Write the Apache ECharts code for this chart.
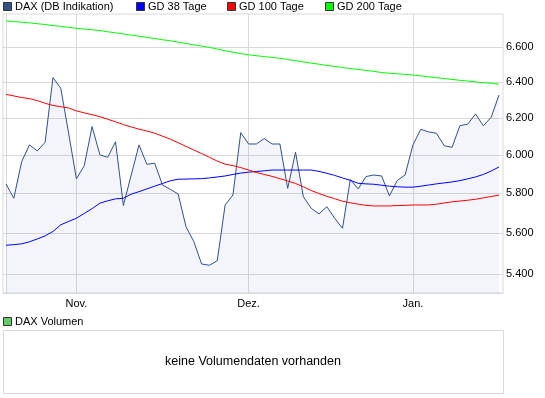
<!DOCTYPE html>
<html>
<head>
<meta charset="utf-8">
<script src="https://cdn.jsdelivr.net/npm/echarts@6/dist/echarts.min.js"></script>
<style>
  html, body { margin: 0; padding: 0; background: #fff; }
  #chart { width: 545px; height: 398px; }
</style>
</head>
<body>
<div id="chart"></div>
<script>
// Handelstage
const dates = [
  "2011-10-19", "2011-10-20", "2011-10-21", "2011-10-24", "2011-10-25", "2011-10-26", "2011-10-27", "2011-10-28", "2011-10-31",
  "2011-11-01", "2011-11-02", "2011-11-03", "2011-11-04", "2011-11-07", "2011-11-08", "2011-11-09", "2011-11-10", "2011-11-11",
  "2011-11-14", "2011-11-15", "2011-11-16", "2011-11-17", "2011-11-18", "2011-11-21", "2011-11-22", "2011-11-23", "2011-11-24",
  "2011-11-25", "2011-11-28", "2011-11-29", "2011-11-30",
  "2011-12-01", "2011-12-02", "2011-12-05", "2011-12-06", "2011-12-07", "2011-12-08", "2011-12-09", "2011-12-12", "2011-12-13",
  "2011-12-14", "2011-12-15", "2011-12-16", "2011-12-19", "2011-12-20", "2011-12-21", "2011-12-22", "2011-12-23", "2011-12-27",
  "2011-12-28", "2011-12-29", "2011-12-30",
  "2012-01-02", "2012-01-03", "2012-01-04", "2012-01-05", "2012-01-06", "2012-01-09", "2012-01-10", "2012-01-11", "2012-01-12",
  "2012-01-13", "2012-01-16", "2012-01-17"
]

const dax = [
  5849, 5775, 5965, 6054, 6022, 6068, 6425, 6365, 6118, 5875,
  5944, 6153, 6001, 5988, 6071, 5738, 5895, 6054, 5951, 5957,
  5843, 5821, 5797, 5632, 5558, 5449, 5443, 5465, 5741, 5792,
  6120, 6059, 6059, 6088, 6059, 6059, 5826, 6015, 5783, 5724,
  5696, 5732, 5674, 5624, 5872, 5823, 5887, 5895, 5890, 5787,
  5867, 5895, 6054, 6138, 6124, 6117, 6050, 6041, 6158, 6166,
  6222, 6157, 6204, 6327
]

const gd38 = [
  5540, 5543, 5547, 5557, 5571, 5586, 5608, 5641, 5658, 5674,
  5698, 5722, 5750, 5762, 5772, 5775, 5796, 5809, 5823, 5837,
  5851, 5865, 5873, 5874, 5875, 5876, 5880, 5885, 5890, 5898,
  5905, 5910, 5913, 5917, 5921, 5921, 5921, 5921, 5921, 5921,
  5914, 5904, 5893, 5880, 5867, 5852, 5849, 5847, 5842, 5837,
  5834, 5832, 5832, 5837, 5843, 5849, 5854, 5859, 5866, 5875,
  5885, 5898, 5916, 5937
]

const gd100 = [
  6331, 6322, 6313, 6307, 6296, 6281, 6269, 6262, 6255, 6239,
  6228, 6218, 6207, 6193, 6179, 6164, 6151, 6139, 6129, 6117,
  6101, 6085, 6066, 6046, 6027, 6008, 5988, 5968, 5952, 5944,
  5934, 5921, 5908, 5898, 5888, 5876, 5864, 5851, 5834, 5815,
  5799, 5785, 5773, 5760, 5752, 5745, 5739, 5736, 5736, 5736,
  5738, 5739, 5741, 5741, 5741, 5745, 5751, 5757, 5761, 5765,
  5770, 5777, 5784, 5791
]

const gd200 = [
  6755, 6751, 6748, 6744, 6739, 6734, 6728, 6723, 6717, 6712,
  6707, 6703, 6698, 6691, 6685, 6678, 6671, 6665, 6658, 6651,
  6644, 6638, 6630, 6622, 6614, 6607, 6599, 6590, 6580, 6571,
  6563, 6556, 6551, 6546, 6541, 6536, 6529, 6522, 6515, 6508,
  6502, 6495, 6489, 6483, 6477, 6472, 6466, 6461, 6454, 6450,
  6447, 6444, 6440, 6435, 6430, 6425, 6420, 6415, 6410, 6406,
  6401, 6397, 6393, 6388
]

const yTicks = [5400, 5600, 5800, 6000, 6200, 6400, 6600]
const monthNames = { "11": "Nov.", "12": "Dez.", "01": "Jan." }

const FONT = "Liberation Sans, Arial, sans-serif"
const GRID_COLOR = "#d9d9d9"

// erster Handelstag jedes Monats (ohne Startmonat)
const monthStarts = []
dates.forEach((d, i) => {
  if (i > 0 && d.slice(5, 7) !== dates[i - 1].slice(5, 7)) monthStarts.push(i)
})

const toPairs = (arr) => arr.map((v, i) => [i, v])
const fmtDe = (v) => String(Math.round(v)).replace(/\B(?=(\d{3})+(?!\d))/g, ".")

const legendItems = [
  { name: "DAX (DB Indikation)", color: "#34508a", x: 3 },
  { name: "GD 38 Tage", color: "#0000ff", x: 136 },
  { name: "GD 100 Tage", color: "#ff0000", x: 227 },
  { name: "GD 200 Tage", color: "#00ff00", x: 325 }
]

const graphics = []
legendItems.forEach((it) => {
  graphics.push({
    type: "rect",
    shape: { x: it.x + 0.5, y: 2.5, width: 8, height: 8 },
    style: { fill: it.color, stroke: "#333", lineWidth: 1 }
  })
  graphics.push({
    type: "text",
    x: it.x + 12,
    y: 7,
    style: { text: it.name, fill: "#000", font: "11px " + FONT, textVerticalAlign: "middle" }
  })
})
// Volumen-Panel
graphics.push({
  type: "rect",
  shape: { x: 3.5, y: 317.5, width: 8, height: 8 },
  style: { fill: "#66cc66", stroke: "#333", lineWidth: 1 }
})
graphics.push({
  type: "text",
  x: 15,
  y: 322,
  style: { text: "DAX Volumen", fill: "#000", font: "11px " + FONT, textVerticalAlign: "middle" }
})
graphics.push({
  type: "rect",
  shape: { x: 3.5, y: 330.5, width: 500, height: 63 },
  style: { fill: "#fff", stroke: GRID_COLOR, lineWidth: 1 }
})
graphics.push({
  type: "text",
  x: 253,
  y: 362,
  style: {
    text: "keine Volumendaten vorhanden",
    fill: "#000",
    font: "12.5px " + FONT,
    textAlign: "center",
    textVerticalAlign: "middle"
  }
})

const chart = echarts.init(document.getElementById("chart"), null, { renderer: "canvas" })

const option = {
  animation: false,
  backgroundColor: "#fff",
  grid: {
    left: 3,
    right: 42,
    top: 14,
    bottom: 105,
    show: true,
    borderColor: GRID_COLOR,
    borderWidth: 1,
    backgroundColor: "transparent"
  },
  xAxis: {
    type: "value",
    min: -0.383,
    max: 63.51,
    axisLine: { show: true, lineStyle: { color: GRID_COLOR } },
    axisTick: { show: false, customValues: monthStarts },
    axisLabel: {
      customValues: monthStarts,
      margin: 5,
      color: "#000",
      fontSize: 11,
      fontFamily: FONT,
      formatter: (v) => monthNames[dates[Math.round(v)].slice(5, 7)]
    },
    splitLine: { show: true, lineStyle: { color: GRID_COLOR, width: 1 } }
  },
  yAxis: {
    type: "log",
    position: "right",
    min: 5311,
    max: 6797,
    axisLine: { show: true, lineStyle: { color: GRID_COLOR } },
    axisTick: { show: false },
    axisLabel: { show: false },
    splitLine: { show: false }
  },
  series: [
    {
      // nur Gitterlinien + Beschriftung der y-Achse, unter allen Kurven
      name: "raster",
      type: "line",
      data: toPairs(dax),
      symbol: "none",
      z: 1,
      silent: true,
      lineStyle: { opacity: 0 },
      markLine: {
        silent: true,
        z: 1,
        symbol: "none",
        animation: false,
        lineStyle: { color: GRID_COLOR, type: "solid", width: 1 },
        label: {
          position: "end",
          distance: 3,
          color: "#000",
          fontSize: 11,
          fontFamily: FONT,
          formatter: (p) => fmtDe(p.value)
        },
        emphasis: { disabled: true },
        data: yTicks.map((v) => ({ yAxis: v }))
      }
    },
    {
      name: "DAX (DB Indikation)",
      type: "line",
      data: toPairs(dax),
      symbol: "none",
      z: 2,
      lineStyle: { color: "#34508a", width: 1 },
      areaStyle: { color: "rgba(60, 90, 190, 0.085)", origin: "start" }
    },
    {
      name: "GD 38 Tage",
      type: "line",
      data: toPairs(gd38),
      symbol: "none",
      z: 3,
      lineStyle: { color: "#0000ff", width: 1 }
    },
    {
      name: "GD 100 Tage",
      type: "line",
      data: toPairs(gd100),
      symbol: "none",
      z: 3,
      lineStyle: { color: "#ff0000", width: 1 }
    },
    {
      name: "GD 200 Tage",
      type: "line",
      data: toPairs(gd200),
      symbol: "none",
      z: 3,
      lineStyle: { color: "#00ff00", width: 1 }
    }
  ],
  graphic: graphics
}

chart.setOption(option)
</script>
</body>
</html>
